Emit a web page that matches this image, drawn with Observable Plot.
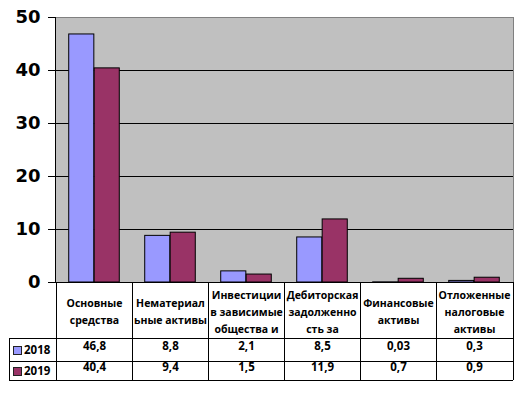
<!DOCTYPE html>
<html><head><meta charset="utf-8">
<script src="https://cdn.jsdelivr.net/npm/d3@7"></script>
<script src="https://cdn.jsdelivr.net/npm/@observablehq/plot@0.6"></script>
<style>body{margin:0;background:#fff;}</style>
</head><body><div id="chart"></div>
<script>
const categories = ["Основные средства", "Нематериальные активы", "Инвестиции в зависимые общества и", "Дебиторская задолженность за", "Финансовые активы", "Отложенные налоговые активы"];
const headerLabels = ["Основные\nсредства", "Нематериал\nьные активы", "Инвестиции\nв зависимые\nобщества и", "Дебиторская\nзадолженно\nсть за", "Финансовые\nактивы", "Отложенные\nналоговые\nактивы"];
const years = ["2018", "2019"];
const values2018 = [46.8, 8.8, 2.1, 8.5, 0.03, 0.3];
const values2019 = [40.4, 9.4, 1.5, 11.9, 0.7, 0.9];
const yTicks = [0, 10, 20, 30, 40, 50];
const colors = ["#9999FF", "#993366"];

const W = 520, H = 393, ML = 55, MR = 7, MT = 17, MB = 111;
const bw = (W - ML - MR) / categories.length;
const fmt = v => String(v).replace(".", ",");

const rows2018 = categories.map((c, i) => ({category: c, value: values2018[i], header: headerLabels[i]}));
const rows2019 = categories.map((c, i) => ({category: c, value: values2019[i]}));

function tableMark(index, scales, values, dims) {
  const g = d3.create("svg:g");
  const x = scales.x;
  const left = dims.marginLeft, right = dims.width - dims.marginRight;
  const top = dims.marginTop, bottom = dims.height - dims.marginBottom;
  const yHead = bottom + 56, yR1 = bottom + 79, yR2 = bottom + 98;
  const tLeft = 9;
  const line = (x1, y1, x2, y2, stroke = "#000") =>
    g.append("line").attr("x1", x1).attr("y1", y1).attr("x2", x2).attr("y2", y2)
      .attr("stroke", stroke).attr("stroke-width", 1).attr("shape-rendering", "crispEdges");
  [yHead, yR1, yR2].forEach(y => line(tLeft, y, right, y));
  line(tLeft, yHead, tLeft, yR2);
  categories.forEach(c => line(x(c), bottom, x(c), yR2));
  line(right, bottom, right, yR2);
  line(left, top, left, bottom);
  years.forEach((yr, i) => {
    const cy = i === 0 ? (yHead + yR1) / 2 : (yR1 + yR2) / 2;
    g.append("rect").attr("x", 13.5).attr("y", Math.round(cy - 4) + 0.5).attr("width", 8).attr("height", 8)
      .attr("fill", colors[i]).attr("stroke", "#222").attr("stroke-width", 1);
    g.append("text").attr("x", 24).attr("y", cy).attr("dy", "0.35em")
      .attr("text-anchor", "start")
      .attr("font-family", "Open Sans").attr("font-weight", "bold").attr("font-size", 11.5)
      .attr("fill", "#000").text(yr);
  });
  return g.node();
}

const chart = Plot.plot({
  width: W, height: H,
  marginLeft: ML, marginRight: MR, marginTop: MT, marginBottom: MB,
  style: {fontFamily: "Open Sans", fontSize: "11px", background: "#fff", color: "#000"},
  x: {domain: categories, padding: 0, axis: null},
  y: {domain: [0, 50], axis: null},
  marks: [
    Plot.frame({fill: "#C0C0C0", stroke: "#808080"}),
    Plot.ruleY(yTicks.filter(t => t < 50), {stroke: "#000", strokeWidth: 1.2}),
    Plot.barY(rows2018, {x: "category", y: "value", fill: colors[0], stroke: "#000", strokeWidth: 1, insetLeft: bw / 6, insetRight: bw / 2}),
    Plot.barY(rows2019, {x: "category", y: "value", fill: colors[1], stroke: "#000", strokeWidth: 1, insetLeft: bw / 2, insetRight: bw / 6}),
    tableMark,
    Plot.text(rows2018, {x: "category", text: "header", frameAnchor: "bottom", dy: 28, lineAnchor: "middle", lineHeight: 1.6, fontWeight: "bold", fontSize: 10.5, fill: "#000"}),
    Plot.text(rows2018, {x: "category", text: d => fmt(d.value), frameAnchor: "bottom", dy: 67.5, fontWeight: "bold", fontSize: 11.5, fill: "#000"}),
    Plot.text(rows2019, {x: "category", text: d => fmt(d.value), frameAnchor: "bottom", dy: 88, fontWeight: "bold", fontSize: 11.5, fill: "#000"}),
    Plot.axisY({ticks: yTicks, tickSize: 7, tickPadding: 8, fontSize: 18, fontWeight: "bold", fontFamily: "DejaVu Sans", label: null, stroke: "#000", fill: "#000"})
  ]
});
document.getElementById("chart").appendChild(chart);
</script>
</body></html>
